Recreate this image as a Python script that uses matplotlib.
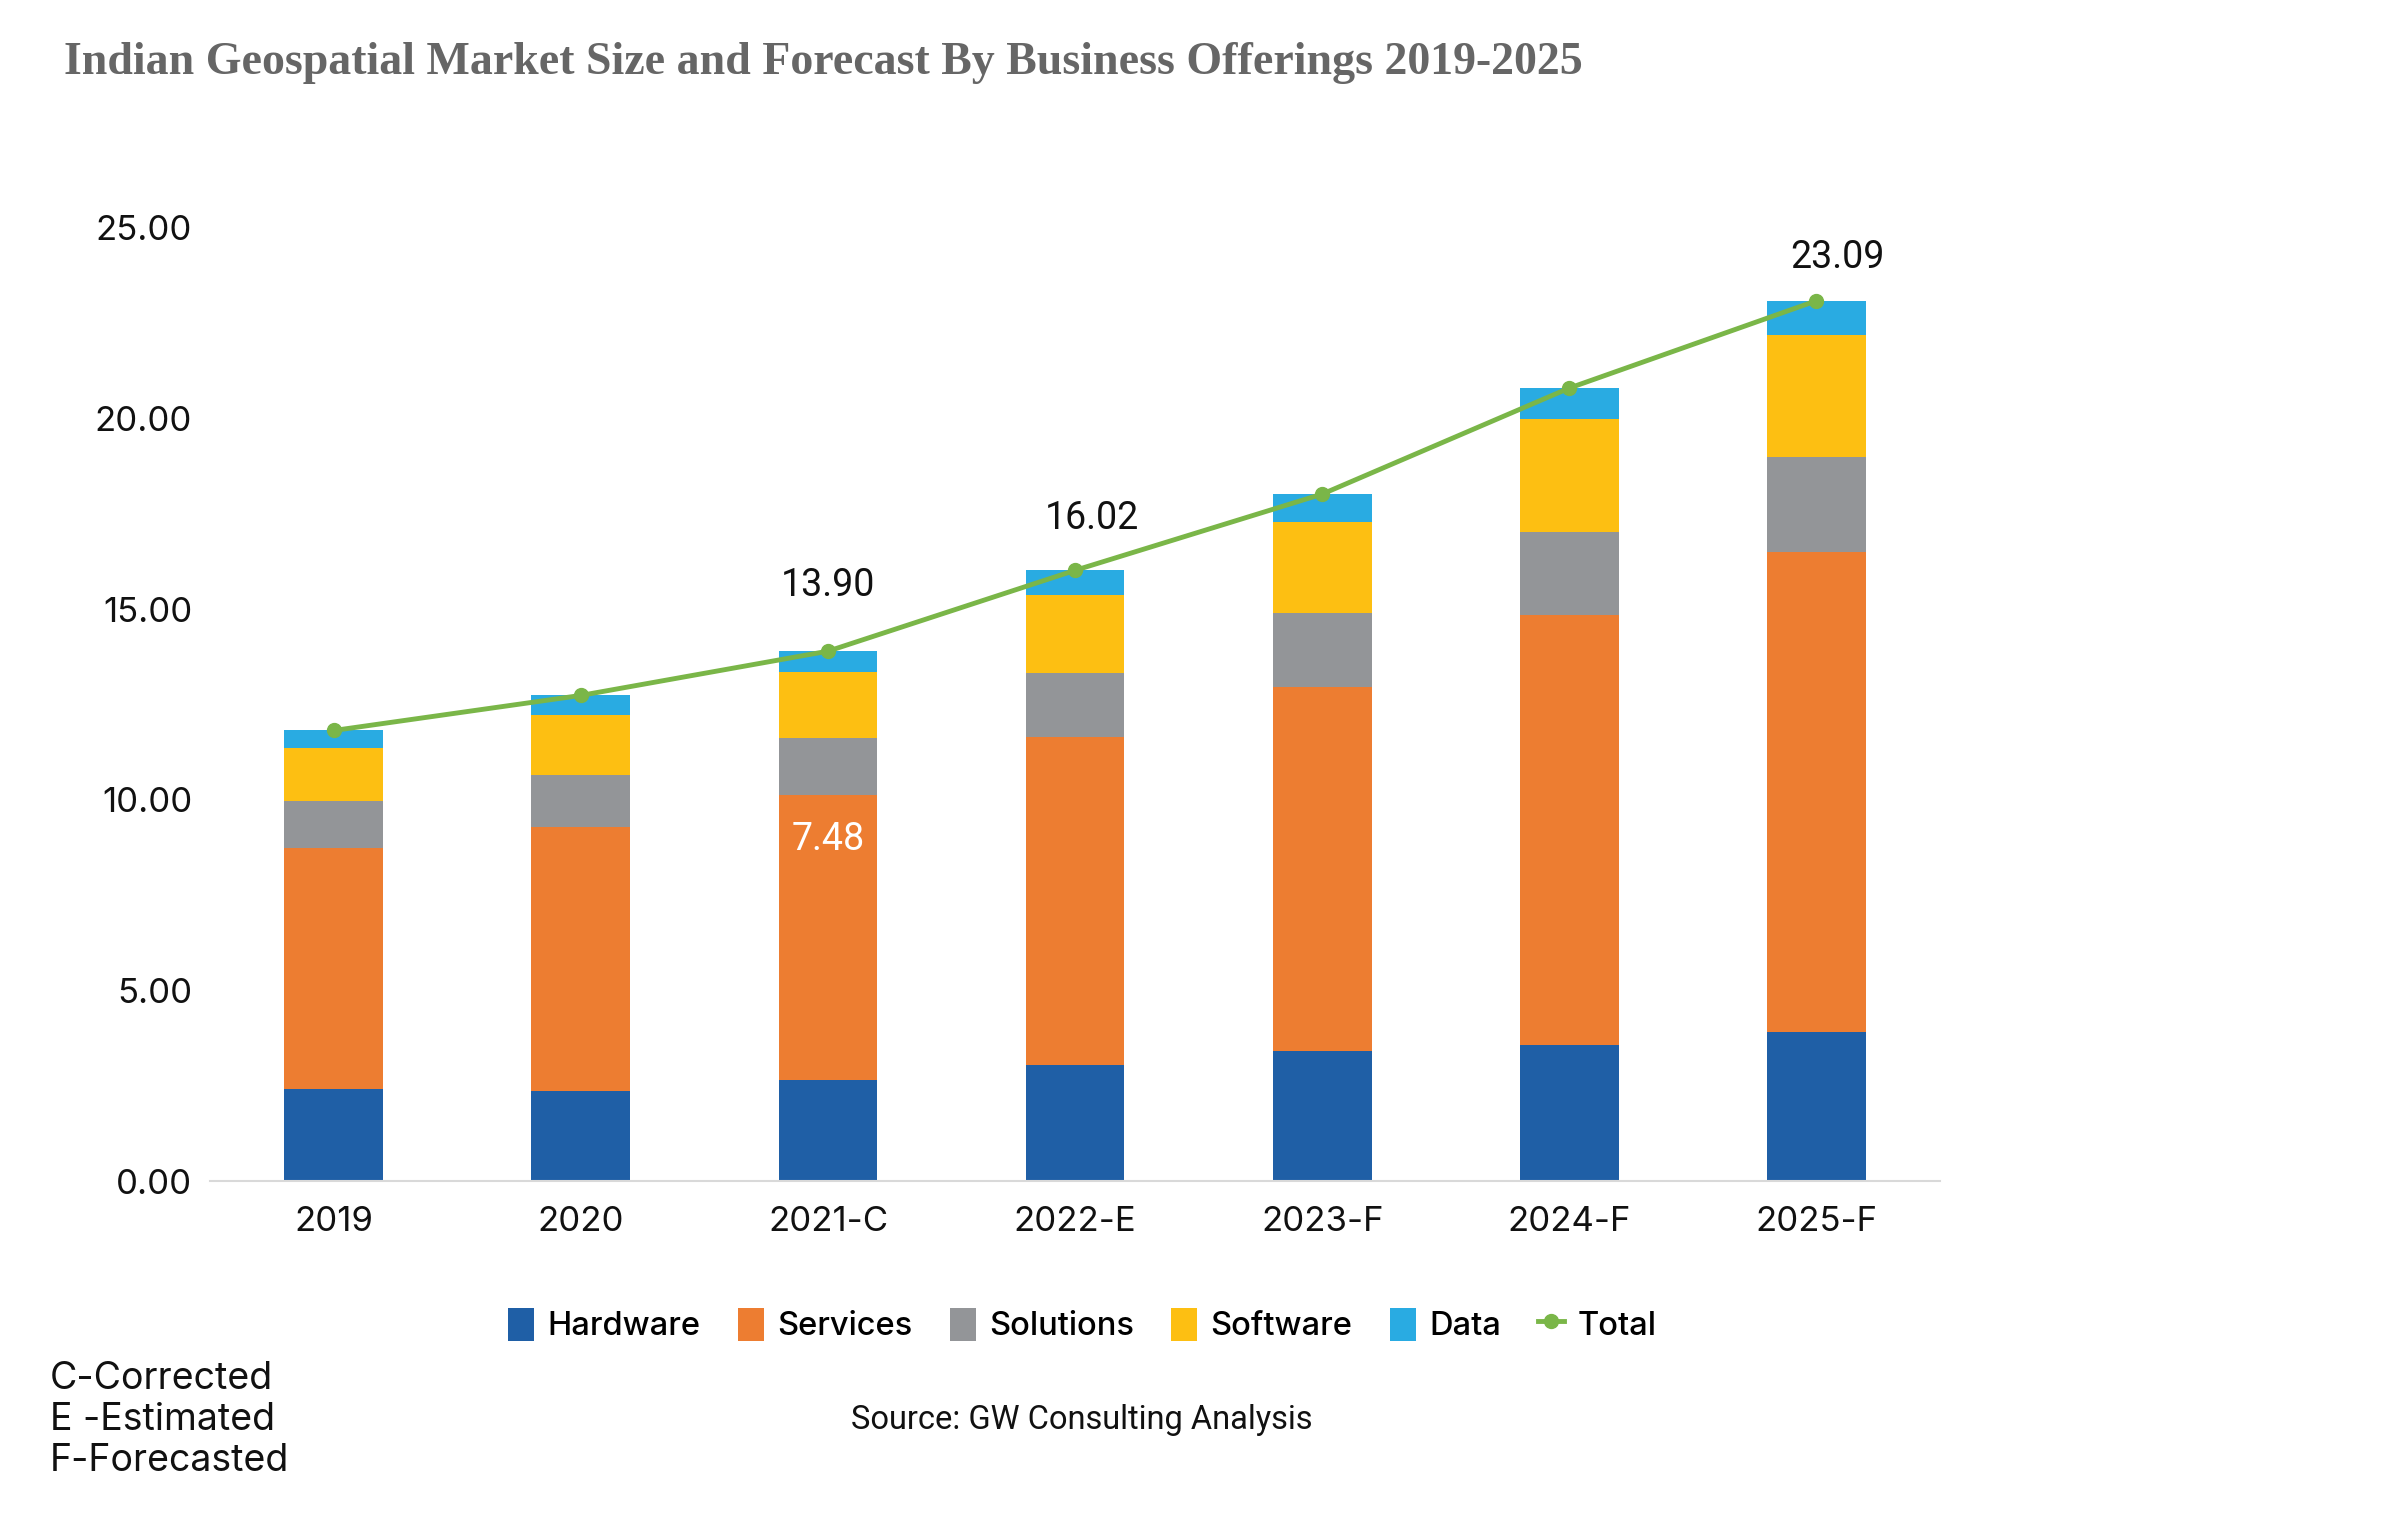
import matplotlib
matplotlib.use("Agg")
import matplotlib.pyplot as plt
import numpy as np
from matplotlib.lines import Line2D
from matplotlib.patches import Patch

# --- data (USD bn) ---
years = ["2019", "2020", "2021-C", "2022-E", "2023-F", "2024-F", "2025-F"]
hardware = [2.42, 2.37, 2.65, 3.04, 3.42, 3.58, 3.91]
services = [6.31, 6.91, 7.48, 8.61, 9.55, 11.28, 12.60]
solutions = [1.25, 1.36, 1.48, 1.67, 1.93, 2.17, 2.49]
software = [1.39, 1.59, 1.75, 2.05, 2.40, 2.95, 3.19]
data = [0.45, 0.51, 0.54, 0.65, 0.72, 0.82, 0.90]
total = [11.82, 12.74, 13.90, 16.02, 18.02, 20.80, 23.09]

series = ["Hardware", "Services", "Solutions", "Software", "Data"]
colors = ["#1F5FA6", "#ED7D31", "#939598", "#FDBF12", "#29ABE2"]
line_color = "#7AB648"

plt.rcParams["font.family"] = ["Inter", "DejaVu Sans"]
label_font = ["Roboto", "DejaVu Sans"]

fig = plt.figure(figsize=(23.89, 15.30), dpi=100)
ax = fig.add_axes([0.088, 0.228, 0.724, 0.623])

x = np.arange(len(years))
bottom = np.zeros(len(years))
for name, vals, col in zip(series, [hardware, services, solutions, software, data], colors):
    ax.bar(x, vals, width=0.4, bottom=bottom, color=col, label=name, zorder=2)
    bottom += np.array(vals)

ax.plot(x, total, color=line_color, lw=3.5, marker="o", ms=10, zorder=3)

# data labels shown on the reference (offsets in points)
label_offsets = {2: (0, 47), 3: (12, 37), 6: (15, 31)}
for i, (dx, dy) in label_offsets.items():
    ax.annotate(f"{total[i]:.2f}", (x[i], total[i]), xytext=(dx, dy),
                textcoords="offset points", ha="center", va="center",
                fontsize=27, color="#111111", family=label_font)
ax.annotate(f"{services[2]:.2f}", (x[2], hardware[2] + services[2]), xytext=(0, -32),
            textcoords="offset points", ha="center", va="center",
            fontsize=27, color="white", family=label_font)

ax.set_xlim(-0.5, 6.5)
ax.set_ylim(0, 25)
ax.set_yticks(np.arange(0, 25.01, 5))
ax.set_yticklabels([f"{v:.2f}" for v in np.arange(0, 25.01, 5)])
ax.set_xticks(x)
ax.set_xticklabels(years)
ax.tick_params(axis="both", length=0, labelsize=25, colors="#111111")
ax.tick_params(axis="y", pad=13)
ax.tick_params(axis="x", pad=18)
for s in ["top", "right", "left"]:
    ax.spines[s].set_visible(False)
ax.spines["bottom"].set_color("#D9D9D9")
ax.spines["bottom"].set_linewidth(1.5)

handles = [Patch(facecolor=c, label=n) for n, c in zip(series, colors)]
handles.append(Line2D([0], [0], color=line_color, lw=3.5, marker="o", ms=10, label="Total"))
fig.legend(handles=handles, loc="center", bbox_to_anchor=(0.453, 0.134), ncol=6,
           frameon=False, prop={"size": 23.5, "weight": "medium"},
           handlelength=0.8, handleheight=1.2, handletextpad=0.4, columnspacing=1.15)

fig.text(0.0268, 0.959, "Indian Geospatial Market Size and Forecast By Business Offerings 2019-2025",
         fontsize=33, fontweight="bold", color="#666666", va="center",
         family=["Liberation Serif", "DejaVu Serif"])

fig.text(0.021, 0.072, "C-Corrected\nE -Estimated\nF-Forecasted", fontsize=27,
         va="center", ha="left", linespacing=1.18, color="#111111")

fig.text(0.453, 0.072, "Source: GW Consulting Analysis", fontsize=23.5, ha="center",
         va="center", color="#111111", family=label_font)

fig.savefig("out.png", dpi=100)
